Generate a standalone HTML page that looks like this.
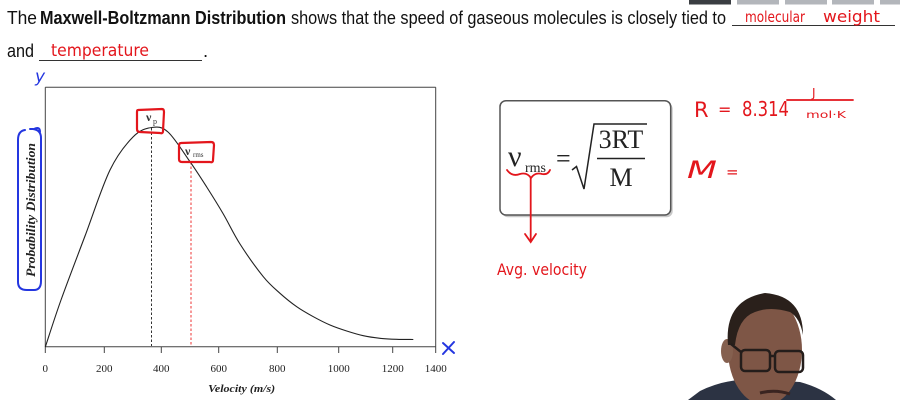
<!DOCTYPE html>
<html><head><meta charset="utf-8"><style>
html,body{margin:0;padding:0;background:#fff;}
svg{display:block;}
</style></head><body>
<svg width="900" height="400" viewBox="0 0 900 400" xmlns="http://www.w3.org/2000/svg">
<rect width="900" height="400" fill="#fff"/>
<!-- top player bars -->
<rect x="689" y="0" width="42" height="4.5" fill="#3a3d42"/>
<rect x="737" y="0" width="42" height="4.5" fill="#b3b6bb"/>
<rect x="785" y="0" width="42" height="4.5" fill="#b3b6bb"/>
<rect x="832" y="0" width="42" height="4.5" fill="#b3b6bb"/>
<rect x="880" y="0" width="20" height="4.5" fill="#b3b6bb"/>

<!-- header text -->
<g font-family="Liberation Sans, Arial, sans-serif" font-size="18.5" fill="#111">
<text x="7" y="24" textLength="30" lengthAdjust="spacingAndGlyphs">The</text>
<text x="40" y="24" font-weight="bold" textLength="246" lengthAdjust="spacingAndGlyphs">Maxwell-Boltzmann Distribution</text>
<text x="291" y="24" textLength="435" lengthAdjust="spacingAndGlyphs">shows that the speed of gaseous molecules is closely tied to</text>
<text x="7" y="57" textLength="27" lengthAdjust="spacingAndGlyphs">and</text>
<text x="203" y="57">.</text>
</g>
<line x1="732" y1="25.5" x2="895" y2="25.5" stroke="#333" stroke-width="1"/>
<line x1="39" y1="60.5" x2="202" y2="60.5" stroke="#333" stroke-width="1"/>

<!-- handwritten red answers -->
<g font-family="DejaVu Sans, sans-serif" fill="#e3161c">
<text x="745" y="22" font-size="15" textLength="60" lengthAdjust="spacingAndGlyphs">molecular</text>
<text x="823" y="22" font-size="16" textLength="57" lengthAdjust="spacingAndGlyphs">weight</text>
<text x="51" y="56" font-size="17" textLength="98" lengthAdjust="spacingAndGlyphs">temperature</text>
</g>

<!-- blue annotations -->
<text x="35" y="82" font-family="DejaVu Sans, sans-serif" font-size="17" font-style="italic" fill="#2436e0">y</text>
<g stroke="#2436e0" stroke-width="2" stroke-linecap="round" fill="none">
<line x1="443" y1="343" x2="454" y2="353"/>
<line x1="454" y1="342" x2="443" y2="354"/>
<path d="M25,130 Q18,131 18,140 L18,282 Q18,290 27,290 L34,290 Q41,290 41,281 L41,138 Q41,130 33,129 L30,129 M34,129 Q40,126 40,132"/>
</g>

<!-- chart frame -->
<g stroke="#444" stroke-width="1" fill="none">
<line x1="45.3" y1="87.3" x2="435.7" y2="87.3"/>
<line x1="45.3" y1="87.3" x2="45.3" y2="346.7"/>
<line x1="435.7" y1="87.3" x2="435.7" y2="353"/>
<line x1="45.3" y1="346.7" x2="435.7" y2="346.7"/>
<line x1="45.3" y1="346.7" x2="45.3" y2="353"/>
<line x1="104.3" y1="346.7" x2="104.3" y2="353"/>
<line x1="161.3" y1="346.7" x2="161.3" y2="353"/>
<line x1="218.7" y1="346.7" x2="218.7" y2="353"/>
<line x1="277.3" y1="346.7" x2="277.3" y2="353"/>
<line x1="338.7" y1="346.7" x2="338.7" y2="353"/>
<line x1="392.7" y1="346.7" x2="392.7" y2="353"/>
</g>
<g font-family="Liberation Serif, serif" font-size="11" fill="#222" text-anchor="middle">
<text x="45.3" y="372">0</text>
<text x="104.3" y="372">200</text>
<text x="161.3" y="372">400</text>
<text x="218.7" y="372">600</text>
<text x="277.3" y="372">800</text>
<text x="338.7" y="372">1000</text>
<text x="392.7" y="372">1200</text>
<text x="435.7" y="372">1400</text>
<text x="241.7" y="392" font-weight="bold" font-style="italic" textLength="67" lengthAdjust="spacingAndGlyphs">Velocity (m/s)</text>
</g>
<text transform="translate(35,210) rotate(-90)" font-family="Liberation Serif, serif" font-size="12.5" font-weight="bold" font-style="italic" fill="#222" text-anchor="middle" textLength="134" lengthAdjust="spacingAndGlyphs">Probability Distribution</text>

<!-- dashed lines -->
<line x1="151.5" y1="128" x2="151.5" y2="346" stroke="#333" stroke-width="1" stroke-dasharray="2.5,2"/>
<line x1="191" y1="162" x2="191" y2="346" stroke="#e33" stroke-width="1" stroke-dasharray="2.5,2"/>

<!-- curve -->
<path d="M45.3,347 C47.92,339.17 54.38,318.5 61,300 C67.62,281.5 76.83,257.67 85,236 C93.17,214.33 102,186.5 110,170 C118,153.5 126.05,144.08 133,137 C139.95,129.92 145.87,128.33 151.7,127.5 C157.53,126.67 161.62,126.3 168,132 C174.38,137.7 183.55,152.53 190,161.7 C196.45,170.87 201.15,178.28 206.7,187 C212.25,195.72 217.75,204.5 223.3,214 C228.85,223.5 233.33,233.55 240,244 C246.67,254.45 256.63,268.48 263.3,276.7 C269.97,284.92 274.43,288.3 280,293.3 C285.57,298.3 291.15,302.8 296.7,306.7 C302.25,310.6 307.75,313.65 313.3,316.7 C318.85,319.75 324.43,322.62 330,325 C335.57,327.38 341.15,329.22 346.7,331 C352.25,332.78 357.75,334.48 363.3,335.7 C368.85,336.92 374.43,337.7 380,338.3 C385.57,338.9 391.15,339.1 396.7,339.3 C402.25,339.5 410.53,339.47 413.3,339.5" fill="none" stroke="#222" stroke-width="1.1"/>

<!-- red boxes on chart -->
<g stroke="#e3161c" stroke-width="2.2" fill="none" stroke-linejoin="round">
<path d="M138,110 L162,109 Q164,109 164,112 L163,131 Q163,134 160,133 L140,132 Q137,132 137,129 L137,112 Q137,110 138,110 Z"/>
<path d="M181,143 L211,142 Q214,142 214,145 L213,160 Q213,163 210,162 L182,162 Q179,162 179,159 L179,146 Q179,143 181,143 Z"/>
</g>
<g font-family="Liberation Serif, serif" fill="#333">
<text x="146" y="121" font-size="12" font-weight="bold">ν</text>
<text x="153" y="124" font-size="8">p</text>
<text x="185" y="155" font-size="12" font-weight="bold">ν</text>
<text x="193" y="157" font-size="7">rms</text>
</g>

<!-- formula box -->
<rect x="502" y="103" width="170.7" height="114.3" rx="6" fill="#c8c8c8"/>
<rect x="500" y="100.7" width="170.7" height="114.3" rx="6" fill="#fff" stroke="#555" stroke-width="1.5"/>
<g font-family="Liberation Serif, serif" fill="#222">
<text x="508" y="166" font-size="30">ν</text>
<text x="525" y="172" font-size="14">rms</text>
<text x="556" y="167" font-size="26">=</text>
<text x="621" y="148" font-size="26" text-anchor="middle">3RT</text>
<text x="621" y="186" font-size="26" text-anchor="middle">M</text>
</g>
<line x1="597" y1="158.5" x2="645" y2="158.5" stroke="#222" stroke-width="1.4"/>
<path d="M572,170 L576.5,166.5 L584,189 L594,124 L647,124" fill="none" stroke="#222" stroke-width="1.5"/>

<!-- red annotations near formula -->
<g stroke="#e3161c" stroke-width="1.8" fill="none" stroke-linecap="round">
<path d="M507,170 Q512,177 520,174 Q527,172 531,178 Q535,172 542,174 Q548,175 550,170"/>
<line x1="530.7" y1="178" x2="530.7" y2="241"/>
<path d="M525,234 L530.7,242 L536,234"/>
<line x1="787" y1="100" x2="853" y2="100"/>
</g>
<g font-family="DejaVu Sans, sans-serif" fill="#e3161c">
<text x="497" y="275" font-size="16" textLength="90" lengthAdjust="spacingAndGlyphs">Avg. velocity</text>
<text x="694" y="117" font-size="21">R</text>
<text x="718" y="115" font-size="16">=</text>
<text x="742" y="116" font-size="20" textLength="47" lengthAdjust="spacingAndGlyphs">8.314</text>
<text x="812" y="97" font-size="12">J</text>
<text x="806" y="118" font-size="10" textLength="40" lengthAdjust="spacingAndGlyphs">mol·K</text>
<text x="687" y="178" font-size="24" font-style="italic" textLength="30" lengthAdjust="spacingAndGlyphs">M</text>
<text x="726" y="177" font-size="15">=</text>
</g>

<!-- presenter -->
<g>
<path d="M688,400 L700,391 Q720,381 746,379 L800,382 Q822,388 836,400 Z" fill="#2c3343"/>
<ellipse cx="765" cy="350" rx="37" ry="55" fill="#7e5646"/>
<ellipse cx="727" cy="351" rx="6" ry="12" fill="#85604f"/>
<path d="M728,345 Q724,300 765,293 Q803,296 803,335 Q800,318 790,312 Q770,306 755,312 Q738,318 735,345 Z" fill="#2a201b"/>
<g fill="none" stroke="#241d1b" stroke-width="2.5">
<rect x="741" y="350" width="29" height="21" rx="4"/>
<rect x="775" y="351" width="28" height="21" rx="4"/>
<line x1="770" y1="356" x2="775" y2="356"/>
<line x1="731" y1="344" x2="741" y2="352"/>
</g>
<path d="M760,393 Q775,389 790,394" fill="none" stroke="#3a2420" stroke-width="3"/>
</g>
</svg>
</body></html>
